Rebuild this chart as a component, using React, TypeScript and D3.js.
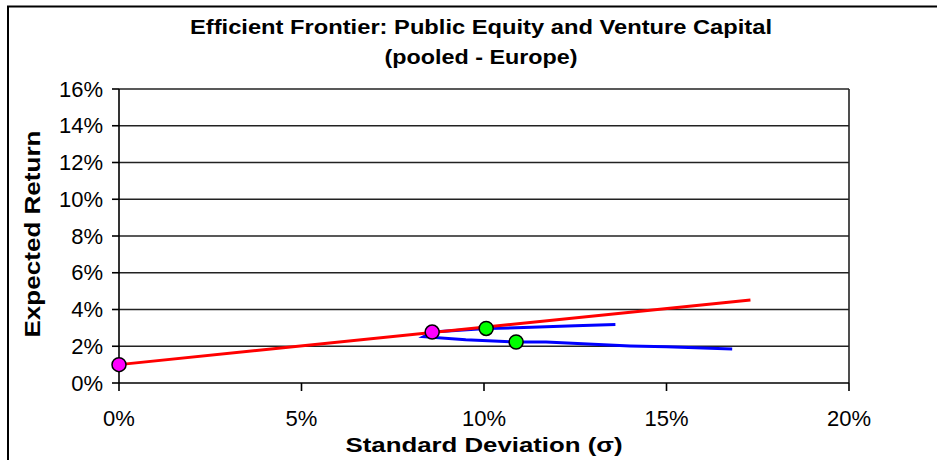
import React from 'react'
import * as d3 from 'd3'

// frontier (sigma %, return %)
const frontierSigma = [13.6, 12.5, 11.3, 10.06, 8.6, 8.35, 9.5, 10.9, 11.7, 14.0, 15.0, 16.8]
const frontierReturn = [3.18, 3.12, 3.03, 2.96, 2.77, 2.52, 2.35, 2.23, 2.23, 2.02, 1.97, 1.85]

// capital market line
const cmlSigma = [0, 17.3]
const cmlReturn = [1.0, 4.52]

// risk free + tangency portfolio
const magentaSigma = [0, 8.58]
const magentaReturn = [1.0, 2.77]

// single assets
const greenSigma = [10.06, 10.88]
const greenReturn = [2.97, 2.23]

const xTicks = [0, 5, 10, 15, 20]
const yTicks = [0, 2, 4, 6, 8, 10, 12, 14, 16]

const W = 937
const H = 460
const left = 119
const right = 849
const top = 89
const bottom = 383

export default function App() {
  const x = d3.scaleLinear().domain([0, 20]).range([left, right])
  const y = d3.scaleLinear().domain([0, 16]).range([bottom, top])

  const line = d3
    .line<[number, number]>()
    .x((d) => x(d[0]))
    .y((d) => y(d[1]))

  const frontier = frontierSigma.map((s, i) => [s, frontierReturn[i]] as [number, number])
  const cml = cmlSigma.map((s, i) => [s, cmlReturn[i]] as [number, number])

  const font = '"Liberation Sans", Arial, sans-serif'

  return (
    <svg
      width={W}
      height={H}
      style={{ position: 'absolute', left: 0, top: 0, background: '#fff' }}
      fontFamily={font}
    >
      {/* chart frame, runs off the right and bottom */}
      <rect x={8} y={6.5} width={W} height={H} fill="none" stroke="#000" strokeWidth={2} />

      <text x={481} y={34} textAnchor="middle" fontSize={20} fontWeight="bold" textLength={582} lengthAdjust="spacingAndGlyphs">
        Efficient Frontier: Public Equity and Venture Capital
      </text>
      <text x={481} y={64} textAnchor="middle" fontSize={20} fontWeight="bold" textLength={193} lengthAdjust="spacingAndGlyphs">
        (pooled - Europe)
      </text>

      {/* gridlines */}
      {yTicks.slice(1).map((t) => (
        <line key={t} x1={left} x2={right} y1={y(t)} y2={y(t)} stroke="#222" strokeWidth={1.6} />
      ))}
      <line x1={right} x2={right} y1={top} y2={bottom} stroke="#222" strokeWidth={1.6} />

      {/* axes */}
      <line x1={left} x2={right} y1={bottom} y2={bottom} stroke="#000" strokeWidth={1.6} />
      <line x1={left} x2={left} y1={top} y2={bottom} stroke="#000" strokeWidth={1.6} />
      {yTicks.map((t) => (
        <g key={t}>
          <line x1={left - 7} x2={left} y1={y(t)} y2={y(t)} stroke="#000" strokeWidth={1.6} />
          <text x={103} y={y(t) + 7.5} textAnchor="end" fontSize={22}>
            {t}%
          </text>
        </g>
      ))}
      {xTicks.map((t) => (
        <g key={t}>
          <line x1={x(t)} x2={x(t)} y1={bottom} y2={bottom + 8} stroke="#000" strokeWidth={1.6} />
          <text x={x(t)} y={426} textAnchor="middle" fontSize={22}>
            {t}%
          </text>
        </g>
      ))}

      <text x={484} y={452} textAnchor="middle" fontSize={21} fontWeight="bold" textLength={277} lengthAdjust="spacingAndGlyphs">
        Standard Deviation (σ)
      </text>
      <text
        transform={`translate(40,234) rotate(-90)`}
        textAnchor="middle"
        fontSize={22}
        fontWeight="bold"
        textLength={207}
        lengthAdjust="spacingAndGlyphs"
      >
        Expected Return
      </text>

      <path d={line(frontier) ?? ''} fill="none" stroke="#0000ff" strokeWidth={3} />
      <path d={line(cml) ?? ''} fill="none" stroke="#ff0000" strokeWidth={3} />

      {magentaSigma.map((s, i) => (
        <circle key={'m' + i} cx={x(s)} cy={y(magentaReturn[i])} r={7} fill="#ff00ff" stroke="#000" strokeWidth={1.5} />
      ))}
      {greenSigma.map((s, i) => (
        <circle key={'g' + i} cx={x(s)} cy={y(greenReturn[i])} r={7} fill="#00ff00" stroke="#000" strokeWidth={1.5} />
      ))}
    </svg>
  )
}
